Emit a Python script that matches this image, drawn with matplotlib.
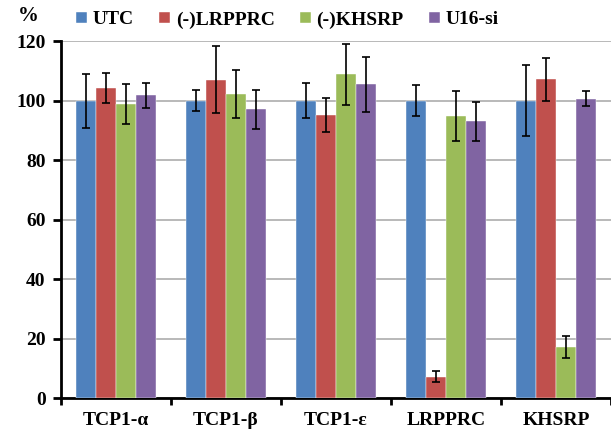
import numpy as np
import matplotlib
matplotlib.use("Agg")
import matplotlib.pyplot as plt

# values
genes = ["TCP1-\u03b1", "TCP1-\u03b2", "TCP1-\u03b5", "LRPPRC", "KHSRP"]
series = ["UTC", "(-)LRPPRC", "(-)KHSRP", "U16-si"]
colors = ["#4F81BD", "#C0504D", "#9BBB59", "#8064A2"]

utc = [100, 100, 100, 100, 100]
utc_err = [9.1, 3.5, 5.8, 5.2, 12.0]
lrpprc = [104.3, 107.0, 95.1, 7.2, 107.2]
lrpprc_err = [5.0, 11.3, 5.7, 1.8, 7.3]
khsrp = [98.9, 102.2, 108.8, 94.8, 17.2]
khsrp_err = [6.7, 8.2, 10.4, 8.3, 3.6]
u16 = [101.8, 97.1, 105.5, 93.0, 100.7]
u16_err = [4.3, 6.5, 9.2, 6.7, 2.4]

values = [utc, lrpprc, khsrp, u16]
errors = [utc_err, lrpprc_err, khsrp_err, u16_err]

plt.rcParams["font.family"] = ["Liberation Serif", "DejaVu Serif"]
plt.rcParams["font.weight"] = "bold"

fig = plt.figure(figsize=(6.11, 4.32), dpi=100)
ax = fig.add_axes([0.0998, 0.0787, 0.9002, 0.826])

x = np.arange(len(genes))
w = 0.18
for i, (vals, errs) in enumerate(zip(values, errors)):
   ax.bar(x + (i - 1.5) * w, vals, w, color=colors[i], edgecolor="white",
          linewidth=0.3, label=series[i], zorder=3,
          yerr=errs, capsize=2.6,
          error_kw=dict(ecolor="black", elinewidth=1.2, capthick=1.2, zorder=4))

ax.set_ylim(0, 120)
ax.set_xlim(-0.5, 4.5)
ax.set_yticks(range(0, 121, 20))
ax.yaxis.grid(True, color="#A6A6A6", linewidth=1.1, zorder=0)
ax.set_axisbelow(True)

# category boundary ticks on the x axis, labels at centers
ax.set_xticks(np.arange(len(genes) + 1) - 0.5)
ax.set_xticklabels([])
ax.set_xticks(x, minor=True)
ax.set_xticklabels(genes, minor=True, fontsize=14, fontweight="bold")
ax.tick_params(axis="x", which="minor", length=0, pad=10)
ax.tick_params(axis="x", which="major", length=5, width=2, direction="out")
ax.tick_params(axis="y", length=6, width=2, direction="out", labelsize=14, pad=5)
for lab in ax.get_yticklabels():
   lab.set_fontweight("bold")

for s in ["top", "right"]:
   ax.spines[s].set_visible(False)
ax.spines["left"].set_linewidth(2)
ax.spines["bottom"].set_linewidth(2)

fig.text(0.047, 0.962, "%", fontsize=15, fontweight="bold", ha="center", va="center")

fig.legend(loc="center left", bbox_to_anchor=(0.125, 0.954), ncol=4, frameon=False,
           borderpad=0, borderaxespad=0,
           handlelength=0.55, handleheight=0.55, handletextpad=0.3,
           columnspacing=1.3, prop=dict(size=14, weight="bold"))

fig.savefig("out.png", dpi=100)
